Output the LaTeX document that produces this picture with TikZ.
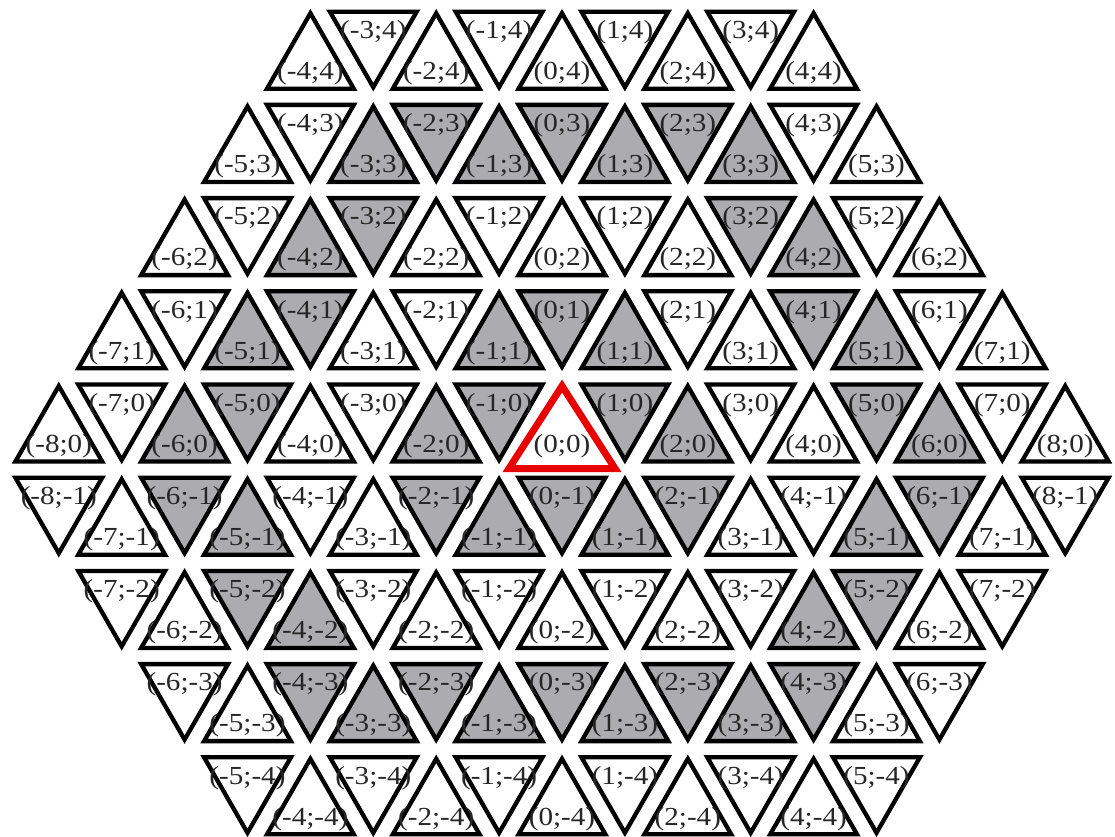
\documentclass[tikz,border=0pt]{standalone}
\usepackage{fontspec}
\setmainfont{Liberation Serif}[FakeStretch=1.12]
\definecolor{cellgray}{RGB}{172,172,176}
\definecolor{hired}{RGB}{232,0,0}
\tikzset{
  tri/.style={draw=black,line width=4.3pt,line join=miter},
  redtri/.style={draw=hired,line width=7pt,line join=miter,fill=white},
  lbl/.style={font=\fontsize{26}{26}\selectfont,inner sep=0pt,text=black!85}
}
\begin{document}
\begin{tikzpicture}[x=1pt,y=1pt]
\useasboundingbox[fill=white] (-562,-413) rectangle (553,423);
% gray cells
\foreach \c in {-3:3,-2:3,-1:3,0:3,1:3,2:3,3:3,
  -4:2,-3:2,3:2,4:2,
  -5:1,-4:1,-1:1,0:1,1:1,4:1,5:1,
  -6:0,-5:0,-2:0,-1:0,1:0,2:0,5:0,6:0,
  -6:-1,-5:-1,-2:-1,-1:-1,0:-1,1:-1,2:-1,5:-1,6:-1,
  -5:-2,-4:-2,4:-2,5:-2,
  -4:-3,-3:-3,-2:-3,-1:-3,0:-3,1:-3,2:-3,3:-3,4:-3}
  {\expandafter\gdef\csname g:\c\endcsname{}}
% triangles
\foreach \y/\xmin in {4/-4,3/-5,2/-6,1/-7,0/-8,-1/-8,-2/-7,-3/-6,-4/-5}{
  \pgfmathtruncatemacro\xmax{-\xmin}
  \foreach \x in {\xmin,...,\xmax}{
    \pgfmathtruncatemacro\pty{mod(abs(\x+\y),2)}
    \def\fillc{white}
    \ifcsname g:\x:\y\endcsname\def\fillc{cellgray}\fi
    \pgfmathsetmacro\cx{62.9*\x}
    \pgfmathsetmacro\cy{93.2*\y}
    \ifnum\pty=0
      \ifnum\x=0 \ifnum\y=0 \else
        \draw[tri,fill=\fillc] (\cx,\cy+37) -- (\cx-43.4,\cy-38.5) -- (\cx+43.4,\cy-38.5) -- cycle;
      \fi\else
        \draw[tri,fill=\fillc] (\cx,\cy+37) -- (\cx-43.4,\cy-38.5) -- (\cx+43.4,\cy-38.5) -- cycle;
      \fi
    \else
      \draw[tri,fill=\fillc] (\cx-43.4,\cy+38.5) -- (\cx+43.4,\cy+38.5) -- (\cx,\cy-37) -- cycle;
    \fi
  }
}
% highlighted cell
\draw[redtri] (0,37) -- (-53,-45.5) -- (53,-45.5) -- cycle;
% labels
\foreach \y/\xmin in {4/-4,3/-5,2/-6,1/-7,0/-8,-1/-8,-2/-7,-3/-6,-4/-5}{
  \pgfmathtruncatemacro\xmax{-\xmin}
  \foreach \x in {\xmin,...,\xmax}{
    \pgfmathtruncatemacro\pty{mod(abs(\x+\y),2)}
    \pgfmathsetmacro\cx{62.9*\x}
    \pgfmathsetmacro\cy{93.2*\y}
    \ifnum\pty=0
      \node[lbl] (L_\x_\y) at (\cx,\cy-23) {(\x;\y)};
    \else
      \node[lbl] (L_\x_\y) at (\cx,\cy+18) {(\x;\y)};
    \fi
  }
}
\end{tikzpicture}
\end{document}
